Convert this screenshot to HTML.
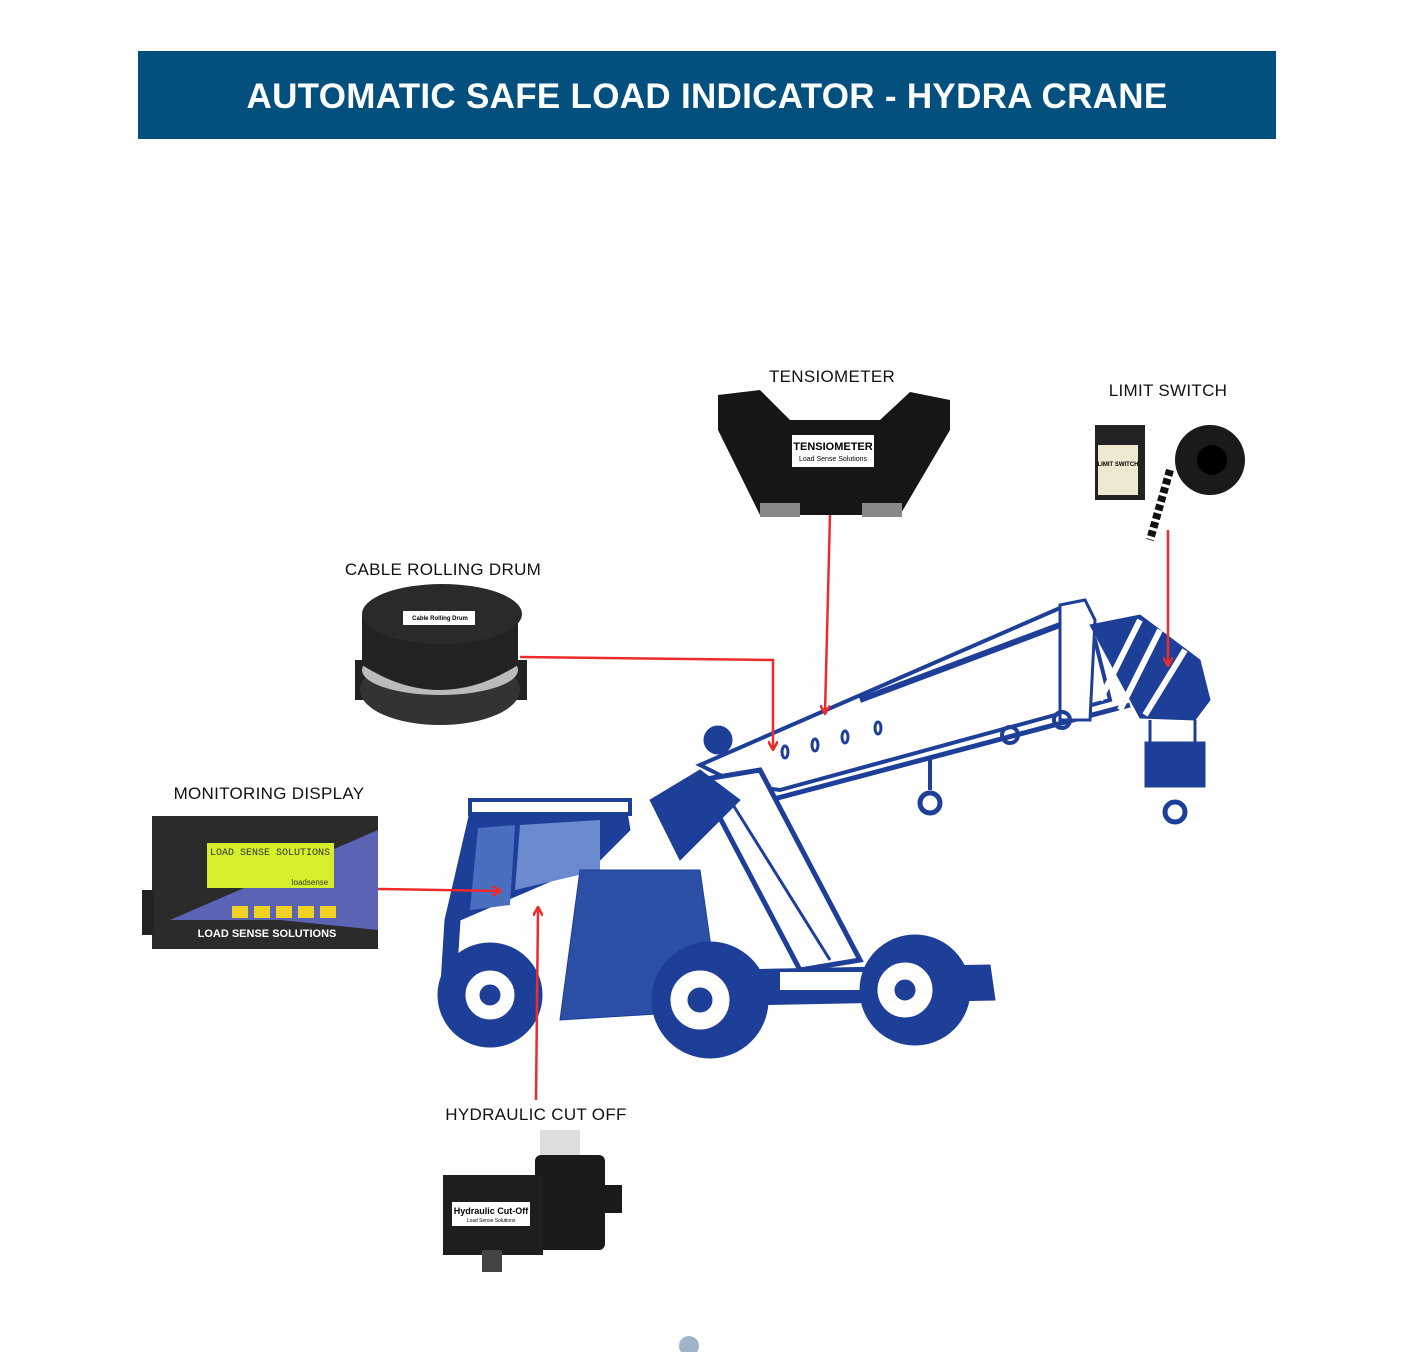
<!DOCTYPE html>
<html><head><meta charset="utf-8"><style>
body{margin:0;width:1414px;height:1352px;background:#fff;position:relative;overflow:hidden;font-family:"Liberation Sans",sans-serif}
.hdr{position:absolute;left:138px;top:51px;width:1138px;height:88px;background:#03507f;color:#fff;font-weight:bold;font-size:35px;text-align:center;line-height:92px;letter-spacing:0.3px}
.lbl{position:absolute;font-size:17px;color:#111;letter-spacing:0.3px;transform:translateX(-50%);white-space:nowrap}
svg{position:absolute;left:0;top:0}
</style></head><body>
<div class="hdr">AUTOMATIC SAFE LOAD INDICATOR - HYDRA CRANE</div>
<div class="lbl" style="left:832px;top:367px">TENSIOMETER</div>
<div class="lbl" style="left:1168px;top:381px">LIMIT SWITCH</div>
<div class="lbl" style="left:443px;top:560px">CABLE ROLLING DRUM</div>
<div class="lbl" style="left:269px;top:784px">MONITORING DISPLAY</div>
<div class="lbl" style="left:536px;top:1105px">HYDRAULIC CUT OFF</div>
<svg width="1414" height="1352" viewBox="0 0 1414 1352">
<defs><marker id="a" markerWidth="10" markerHeight="10" refX="8" refY="5" orient="auto" markerUnits="userSpaceOnUse"><path d="M0,0 L9,5 L0,10" fill="none" stroke="#ee2b2b" stroke-width="2.5"/></marker></defs>
<g fill="#1e3f98" stroke="#1e3f98">
<polygon points="700,765 1060,608 1095,640 1110,700 780,790 740,785" fill="#fff" stroke-width="4"/>
<line x1="770" y1="800" x2="1130" y2="705" stroke-width="5"/>
<line x1="860" y1="700" x2="1060" y2="625" stroke-width="6"/>
<g fill="none" stroke-width="3"><ellipse cx="785" cy="752" rx="3" ry="6"/><ellipse cx="815" cy="745" rx="3" ry="6"/><ellipse cx="845" cy="737" rx="3" ry="6"/><ellipse cx="878" cy="728" rx="3" ry="6"/></g>
<polygon points="1060,605 1085,600 1095,620 1090,720 1060,720" stroke-width="3" fill="#fff"/>
<polygon points="1090,625 1140,615 1200,660 1210,700 1195,720 1140,718" />
<g stroke="#fff" stroke-width="6"><line x1="1100" y1="700" x2="1140" y2="620"/><line x1="1120" y1="710" x2="1160" y2="630"/><line x1="1145" y1="715" x2="1185" y2="650"/></g>
<line x1="1150" y1="720" x2="1150" y2="745" stroke-width="3"/><line x1="1195" y1="720" x2="1195" y2="745" stroke-width="3"/>
<rect x="1145" y="742" width="60" height="45"/>
<circle cx="1175" cy="812" r="10" fill="none" stroke-width="5"/>
<line x1="930" y1="760" x2="930" y2="790" stroke-width="4"/>
<circle cx="930" cy="803" r="10" fill="none" stroke-width="5"/>
<circle cx="1010" cy="735" r="8" fill="none" stroke-width="4"/>
<circle cx="1062" cy="720" r="8" fill="none" stroke-width="4"/>
<circle cx="718" cy="740" r="14"/>
<polygon points="700,780 760,770 860,960 800,970" fill="#fff" stroke-width="5"/>
<line x1="730" y1="800" x2="830" y2="960" stroke-width="3"/>
<polygon points="650,800 700,770 740,800 680,860" />
<polygon points="470,812 625,800 630,830 600,860 460,920 455,1000 440,1000 445,920" />
<polygon points="478,828 515,825 510,905 470,910" fill="#4b6fc0" stroke="none"/>
<polygon points="520,825 600,820 600,870 515,890" fill="#6b8ad0" stroke="none"/>
<rect x="470" y="800" width="160" height="14" fill="#fff" stroke-width="4"/>
<polygon points="580,870 700,870 720,1010 560,1020" fill="#2c4fa6"/>
<polygon points="730,970 990,965 995,1000 745,1005"/>
<rect x="780" y="972" width="90" height="18" fill="#fff" stroke="none"/>
<circle cx="490" cy="995" r="52"/><circle cx="490" cy="995" r="25" fill="#fff"/><circle cx="490" cy="995" r="10"/>
<circle cx="710" cy="1000" r="58"/><circle cx="700" cy="1000" r="30" fill="#fff"/><circle cx="700" cy="1000" r="12"/>
<circle cx="915" cy="990" r="55"/><circle cx="905" cy="990" r="28" fill="#fff"/><circle cx="905" cy="990" r="10"/>
</g>
<polygon points="718,395 760,390 790,420 880,420 910,392 950,400 950,430 900,515 760,515 718,430" fill="#161616"/>
<rect x="760" y="503" width="40" height="14" fill="#888"/><rect x="862" y="503" width="40" height="14" fill="#888"/>
<rect x="792" y="435" width="82" height="32" fill="#fff"/>
<text x="833" y="450" font-size="11" font-weight="bold" text-anchor="middle">TENSIOMETER</text>
<text x="833" y="461" font-size="7" text-anchor="middle">Load Sense Solutions</text>
<rect x="1095" y="425" width="50" height="75" fill="#222"/>
<rect x="1098" y="445" width="40" height="50" fill="#eee8d0"/>
<text x="1118" y="466" font-size="6" font-weight="bold" text-anchor="middle">LIMIT SWITCH</text>
<circle cx="1210" cy="460" r="35" fill="#1a1a1a"/>
<circle cx="1212" cy="460" r="15" fill="#000"/>
<path d="M1170,470 L1150,540" stroke="#111" stroke-width="8" stroke-dasharray="6 3"/>
<rect x="355" y="660" width="172" height="40" fill="#222"/>
<ellipse cx="440" cy="690" rx="80" ry="35" fill="#333"/>
<ellipse cx="440" cy="670" rx="78" ry="25" fill="#bbb"/>
<path d="M362,615 L362,665 Q440,715 518,665 L518,615 Z" fill="#222"/>
<ellipse cx="442" cy="614" rx="80" ry="30" fill="#2a2a2a"/>
<rect x="403" y="611" width="72" height="14" fill="#fff"/>
<text x="440" y="620" font-size="6" font-weight="bold" text-anchor="middle">Cable Rolling Drum</text>
<rect x="152" y="816" width="226" height="133" fill="#2b2b2b"/>
<polygon points="170,920 378,830 378,930 280,920" fill="#5a63b4"/>
<rect x="207" y="843" width="127" height="45" fill="#d6ef2a"/>
<text x="270" y="855" font-size="10" font-family="Liberation Mono,monospace" text-anchor="middle" fill="#333">LOAD SENSE SOLUTIONS</text>
<text x="310" y="885" font-size="8" fill="#333" text-anchor="middle">loadsense</text>
<g fill="#f0d020"><rect x="232" y="906" width="16" height="12"/><rect x="254" y="906" width="16" height="12"/><rect x="276" y="906" width="16" height="12"/><rect x="298" y="906" width="16" height="12"/><rect x="320" y="906" width="16" height="12"/></g>
<text x="267" y="937" font-size="11" font-weight="bold" fill="#fff" text-anchor="middle">LOAD SENSE SOLUTIONS</text>
<rect x="142" y="890" width="12" height="45" fill="#222"/>
<rect x="540" y="1130" width="40" height="30" fill="#ddd"/>
<rect x="535" y="1155" width="70" height="95" fill="#1a1a1a" rx="6"/>
<rect x="600" y="1185" width="22" height="28" fill="#1a1a1a"/>
<rect x="443" y="1175" width="100" height="80" fill="#1e1e1e"/>
<rect x="452" y="1202" width="78" height="24" fill="#fff"/>
<text x="491" y="1214" font-size="9" font-weight="bold" text-anchor="middle">Hydraulic Cut-Off</text>
<text x="491" y="1222" font-size="5" text-anchor="middle">Load Sense Solutions</text>
<rect x="482" y="1250" width="20" height="22" fill="#444"/>
<g stroke="#ee2b2b" stroke-width="2.5" fill="none">
<polyline points="520,657 773,660 773,749" marker-end="url(#a)"/>
<line x1="830" y1="515" x2="825" y2="713" marker-end="url(#a)"/>
<line x1="1168" y1="530" x2="1168" y2="665" marker-end="url(#a)"/>
<line x1="378" y1="889" x2="500" y2="891" marker-end="url(#a)"/>
<line x1="536" y1="1100" x2="538" y2="908" marker-end="url(#a)"/>
</g>
<circle cx="689" cy="1346" r="10" fill="#9fb4c8"/>
</svg>
</body></html>
